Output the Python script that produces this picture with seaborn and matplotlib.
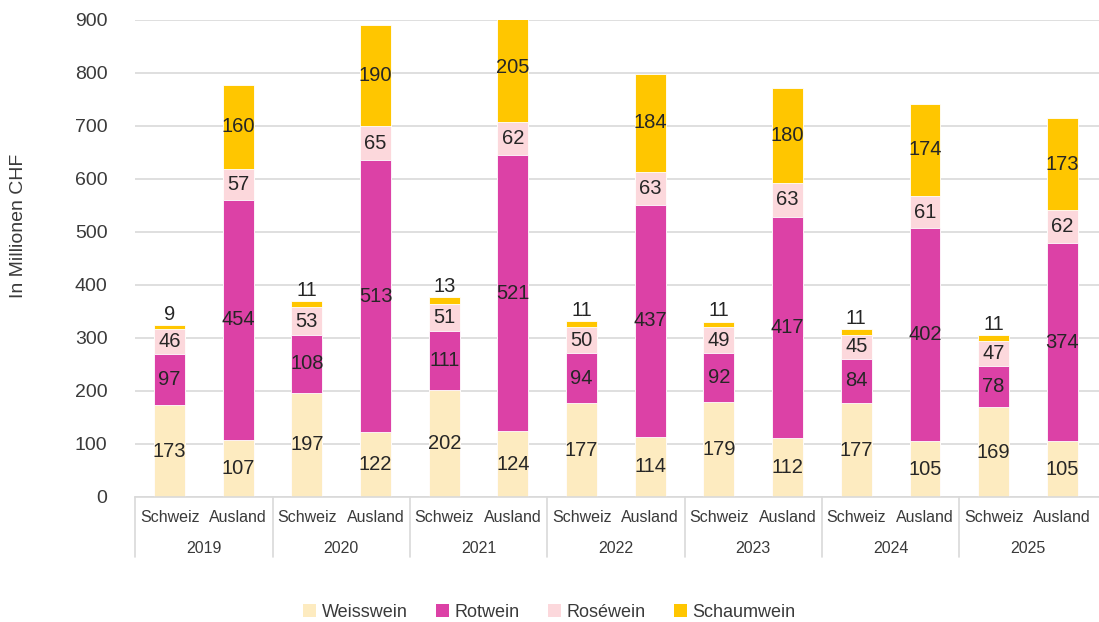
import numpy as np
import pandas as pd
import matplotlib.pyplot as plt
import seaborn as sns
from matplotlib.patches import Patch
from matplotlib.transforms import blended_transform_factory


# =========================================================
# DATA
# =========================================================

years = ['2019', '2020', '2021', '2022', '2023', '2024', '2025']
origins = ['Schweiz', 'Ausland']
wines = ['Weisswein', 'Rotwein', 'Roséwein', 'Schaumwein']

# Schweiz
ch_weiss = [173, 197, 202, 177, 179, 177, 169]
ch_rot = [97, 108, 111, 94, 92, 84, 78]
ch_rose = [46, 53, 51, 50, 49, 45, 47]
ch_schaum = [9, 11, 13, 11, 11, 11, 11]

# Ausland
au_weiss = [107, 122, 124, 114, 112, 105, 105]
au_rot = [454, 513, 521, 437, 417, 402, 374]
au_rose = [57, 65, 62, 63, 63, 61, 62]
au_schaum = [160, 190, 205, 184, 180, 174, 173]

colors = ['#FDEBC0', '#DC41A6', '#FCD8DC', '#FFC600']


# =========================================================
# BUILD TABLE
# =========================================================

rows = []
for i, year in enumerate(years):
    for origin, series in (
        ('Schweiz', (ch_weiss, ch_rot, ch_rose, ch_schaum)),
        ('Ausland', (au_weiss, au_rot, au_rose, au_schaum)),
    ):
        row = {'bar': f'{year} {origin}', 'year': year, 'origin': origin}
        for wine, values in zip(wines, series):
            row[wine] = values[i]
        rows.append(row)

df = pd.DataFrame(rows)
cum = df[wines].cumsum(axis=1)


# =========================================================
# PLOT
# =========================================================

sns.set_theme(style='white')
plt.rcParams['font.family'] = ['Liberation Sans', 'DejaVu Sans']

text_color = '#3A3A3A'
grid_color = '#D9D9D9'

fig = plt.figure(figsize=(10.99, 6.22), dpi=100)
ax = fig.add_axes([0.123, 0.201, 0.878, 0.767])

# stacked bars: draw cumulative totals from the top series down
for wine, color in reversed(list(zip(wines, colors))):
    sns.barplot(
        data=cum.assign(bar=df['bar']),
        x='bar',
        y=wine,
        color=color,
        width=0.45,
        edgecolor='white',
        linewidth=0.6,
        saturation=1,
        ax=ax,
        zorder=2
    )

# value labels
for idx, row in df.iterrows():
    for j, wine in enumerate(wines):
        value = row[wine]
        top = cum.loc[idx, wine]
        if row['origin'] == 'Schweiz' and wine == 'Schaumwein':
            y = top + 2
            va = 'bottom'
        else:
            y = top - value / 2
            va = 'center'
        ax.text(
            idx, y, f'{value}',
            ha='center', va=va,
            fontsize=14.5, color='#262626', zorder=3
        )

ax.set_ylim(0, 900)
ax.set_xlim(-0.5, 13.55)
ax.set_yticks(np.arange(0, 901, 100))
ax.yaxis.grid(True, color=grid_color, linewidth=1.2, zorder=0)
ax.set_axisbelow(True)
ax.tick_params(axis='y', length=0, pad=20, labelsize=14, labelcolor=text_color)
ax.set_xticks([])
ax.set_xlabel('')
ax.set_ylabel('')

for side in ['left', 'right', 'top']:
    ax.spines[side].set_visible(False)
ax.spines['bottom'].set_color(grid_color)
ax.spines['bottom'].set_linewidth(1.2)

# two-level category axis
trans = blended_transform_factory(ax.transData, ax.transAxes)
for i, year in enumerate(years):
    left = 2 * i - 0.5
    ax.plot([left, left], [0, -0.125], transform=trans, color=grid_color,
            linewidth=1.2, clip_on=False)
    ax.text(2 * i, -0.043, 'Schweiz', transform=trans, ha='center',
            va='center', fontsize=11.5, color=text_color)
    ax.text(2 * i + 1, -0.043, 'Ausland', transform=trans, ha='center',
            va='center', fontsize=11.5, color=text_color)
    ax.text(2 * i + 0.5, -0.107, year, transform=trans, ha='center',
            va='center', fontsize=11.5, color=text_color)

fig.text(0.017, 0.637, 'In Millionen CHF', rotation=90, ha='center',
         va='center', fontsize=14, color=text_color)

handles = [Patch(facecolor=c, edgecolor='none') for c in colors]
fig.legend(
    handles, wines,
    loc='center', bbox_to_anchor=(0.5, 0.016),
    ncol=4, frameon=False, fontsize=13,
    handlelength=0.7, handleheight=0.7, handletextpad=0.3,
    columnspacing=1.6, labelcolor=text_color
)

plt.savefig('out.png', dpi=100)
